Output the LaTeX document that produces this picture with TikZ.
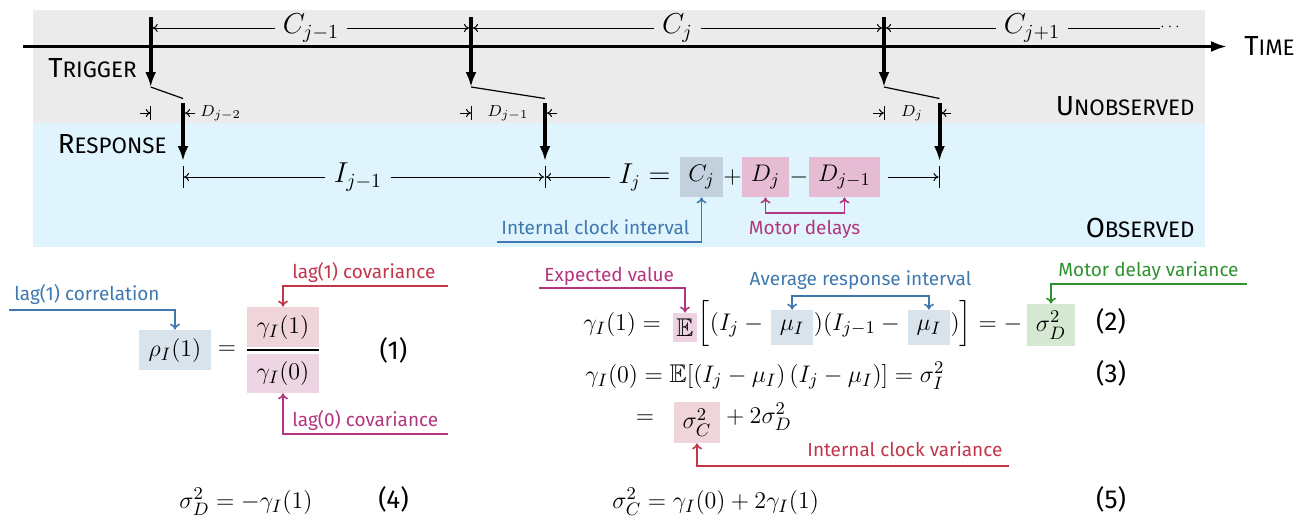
\documentclass[tikz,border=0pt]{standalone}
\usepackage{amssymb}
\usepackage{fontspec}
\newfontfamily\fira{Fira Sans}
\usetikzlibrary{arrows.meta}
\definecolor{bggray}{HTML}{EBEBEB}
\definecolor{bgblue}{HTML}{DFF4FC}
\definecolor{boxC}{HTML}{C3D1DE}
\definecolor{boxD}{HTML}{E5BCD3}
\definecolor{boxmu}{HTML}{D9E3EC}
\definecolor{boxE}{HTML}{EDD3E2}
\definecolor{boxnum}{HTML}{EFD4D9}
\definecolor{boxden}{HTML}{EED5E3}
\definecolor{boxgreen}{HTML}{D4E8D2}
\definecolor{boxsc}{HTML}{EFD4DA}
\definecolor{cblue}{HTML}{3E78AE}
\definecolor{cred}{HTML}{C2364B}
\definecolor{cmag}{HTML}{B4357F}
\definecolor{cgreen}{HTML}{2F912F}
\newcommand\fakesc[2]{{\fira\fontsize{13.8}{16}\selectfont #1}{\fira\fontsize{11.2}{13}\selectfont #2}}
\begin{document}
\begin{tikzpicture}[x=0.5pt,y=-0.5pt,
  big/.style={line width=2pt,-{Latex[length=7.5pt,width=5.5pt]}},
  dimline/.style={line width=0.5pt,-{To[length=2.5pt,width=4pt]}},
  barline/.style={line width=0.5pt},
  conn/.style={line width=0.8pt,-{To[length=3pt,width=5pt]}},
  conn2/.style={line width=0.8pt,{To[length=3pt,width=5pt]}-{To[length=3pt,width=5pt]}},
  lbl/.style={inner sep=0pt,font=\fira\fontsize{9.5}{11.5}\selectfont},
  mth/.style={inner sep=0pt,font=\fontsize{12.8}{15}\selectfont},
  sml/.style={inner sep=0pt,font=\fontsize{8.5}{10}\selectfont},
  hbox/.style={inner sep=0pt,font=\fontsize{12.8}{15}\selectfont},
  eqnum/.style={inner sep=0pt,font=\fira\fontsize{13}{15}\selectfont},
  sclab/.style={inner sep=0pt},
  dimlab/.style={font=\fontsize{14}{16}\selectfont,inner xsep=4pt,inner ysep=1pt}
]
\useasboundingbox (0,0) rectangle (1306,521);
% backgrounds
\fill[bggray] (33,10) rectangle (1205,123);
\fill[bgblue] (33,123) rectangle (1205,247);
% time axis
\coordinate (ax0) at (23,46.5);
\coordinate (ax1) at (1227,46.5);
\draw[line width=1.5pt,-{Latex[length=8pt,width=5.5pt]}] (ax0) -- (ax1);
\node[sclab,anchor=base west] (time) at (1244,55) {\fakesc{T}{IME}};
\node[sclab,anchor=base east] (trig) at (137,77) {\fakesc{T}{RIGGER}};
\node[sclab,anchor=base east] (resp) at (167,153) {\fakesc{R}{ESPONSE}};
\node[sclab,anchor=base east] (unobs) at (1195,115) {\fakesc{U}{NOBSERVED}};
\node[sclab,anchor=base east] (obs) at (1195,237) {\fakesc{O}{BSERVED}};
% triggers and responses
\coordinate (t1a) at (150.7,17); \coordinate (t1b) at (150.7,87);
\coordinate (t2a) at (471,17);   \coordinate (t2b) at (471,87);
\coordinate (t3a) at (884,17);   \coordinate (t3b) at (884,87);
\coordinate (s1) at (183,98.5); \coordinate (s2) at (545,98.5); \coordinate (s3) at (939.5,98.5);
\coordinate (r1a) at (183,103); \coordinate (r1b) at (183,161);
\coordinate (r2a) at (545,103); \coordinate (r2b) at (545,161);
\coordinate (r3a) at (939.5,103); \coordinate (r3b) at (939.5,161);
\draw[big] (t1a) -- (t1b); \draw[big] (t2a) -- (t2b); \draw[big] (t3a) -- (t3b);
\draw[line width=0.6pt] (t1b) -- (s1);
\draw[line width=0.6pt] (t2b) -- (s2);
\draw[line width=0.6pt] (t3b) -- (s3);
\draw[big] (r1a) -- (r1b); \draw[big] (r2a) -- (r2b); \draw[big] (r3a) -- (r3b);
% D markers
\coordinate (d1l) at (140,113); \coordinate (d1r) at (195,113);
\coordinate (d2l) at (460,113); \coordinate (d2r) at (557,113);
\coordinate (d3l) at (873,113); \coordinate (d3r) at (951,113);
\draw[dimline] (d1l) -- (t1b |- d1l);
\draw[dimline] (d2l) -- (t2b |- d2l);
\draw[dimline] (d3l) -- (t3b |- d3l);
\draw[dimline,shorten >=1pt] (d1r) -- (r1a |- d1r);
\draw[dimline,shorten >=1pt] (d2r) -- (r2a |- d2r);
\draw[dimline,shorten >=1pt] (d3r) -- (r3a |- d3r);
\coordinate (b1t) at (150.7,106); \coordinate (b1u) at (150.7,120);
\coordinate (b2t) at (471,106);   \coordinate (b2u) at (471,120);
\coordinate (b3t) at (884,106);   \coordinate (b3u) at (884,120);
\draw[barline] (b1t) -- (b1u); \draw[barline] (b2t) -- (b2u); \draw[barline] (b3t) -- (b3u);
\node[sml,anchor=west] (dl1) at (200,113) {$D_{j-2}$};
\node[sml] (dl2) at (508,113) {$D_{j-1}$};
\node[sml] (dl3) at (912,113) {$D_{j}$};
% C row
\node[dimlab,fill=bggray] (c1) at (311,28) {$C_{j-1}$};
\node[dimlab,fill=bggray] (c2) at (677.5,28) {$C_{j}$};
\node[dimlab,fill=bggray] (c3) at (1032,28) {$C_{j+1}$};
\node[inner sep=0pt,font=\fontsize{7}{8}\selectfont] (dots) at (1170,27) {$\cdots$};
\draw[dimline,shorten >=1pt] (c1) -- (t1a |- c1);
\draw[dimline,shorten >=1pt] (c1) -- (t2a |- c1);
\draw[dimline,shorten >=1pt] (c2) -- (t2a |- c2);
\draw[dimline,shorten >=1pt] (c2) -- (t3a |- c2);
\draw[dimline,shorten >=1pt] (c3) -- (t3a |- c3);
\draw[line width=0.5pt] (c3) -- (dots.west |- c3);
% I row
\coordinate (i1t) at (183,166); \coordinate (i1u) at (183,188);
\coordinate (i2t) at (545,166); \coordinate (i2u) at (545,188);
\coordinate (i3t) at (939.5,166); \coordinate (i3u) at (939.5,188);
\draw[barline] (i1t) -- (i1u); \draw[barline] (i2t) -- (i2u); \draw[barline] (i3t) -- (i3u);
\node[dimlab,fill=bgblue] (il1) at (358,177) {$I_{j-1}$};
\draw[dimline,shorten >=0.5pt] (il1) -- (i1t |- il1);
\draw[dimline,shorten >=0.5pt] (il1) -- (i2t |- il1);
\node[hbox,fill=boxC,minimum width=21.5pt,minimum height=20pt] (Cj) at (701.5,177) {$C_j$};
\node[mth,anchor=base east,font=\fontsize{13.5}{16}\selectfont] (ij) at (671,183) {$I_j =$};
\node[mth,anchor=base] (plus) at (732.5,183) {$+$};
\node[hbox,fill=boxD,minimum width=23.5pt,minimum height=20pt] (Dj) at (765.5,177) {$D_j$};
\node[mth,anchor=base] (minus) at (799,183) {$-$};
\node[hbox,fill=boxD,minimum width=35.5pt,minimum height=20pt] (Djm) at (844.5,177) {$D_{j-1}$};
\draw[dimline,shorten <=4pt,shorten >=0.5pt] (ij.west |- Cj.center) -- (i2t |- Cj.center);
\draw[dimline,shorten <=4pt,shorten >=0.5pt] (Djm.east) -- (i3t |- Djm.east);
% labels in the observed band
\node[lbl,text=cblue,anchor=base west] (icl) at (501,234) {Internal clock interval};
\coordinate (iclf) at (497,242);
\draw[conn,cblue] (iclf) -- (iclf -| Cj.south) -- (Cj.south);
\node[lbl,text=cmag,anchor=base] (md) at (804.5,234) {Motor delays};
\coordinate (mdb) at (804.5,213);
\draw[conn2,cmag] (Dj.south) -- (Dj.south |- mdb) -- (Djm.south |- mdb) -- (Djm.south);
% equation 1
\node[hbox,fill=boxmu,minimum width=36pt,minimum height=20pt] (rho) at (175,350) {$\rho_I(1)$};
\node[mth] (eqa) at (227,350) {$=$};
\node[hbox,fill=boxnum,minimum width=36pt,minimum height=20pt] (num) at (283,327) {$\gamma_I(1)$};
\node[hbox,fill=boxden,minimum width=36pt,minimum height=19.5pt] (den) at (283,373.5) {$\gamma_I(0)$};
\draw[line width=1pt] (num.south west |- eqa) -- (num.south east |- eqa);
\node[eqnum] (n1) at (393.5,350) {(1)};
\node[lbl,text=cblue,anchor=base west] (l1c) at (14,300) {lag(1) correlation};
\coordinate (l1cf) at (9,310);
\draw[conn,cblue] (l1cf) -- (l1cf -| rho.north) -- (rho.north);
\node[lbl,text=cred,anchor=base west] (l1v) at (292,278) {lag(1) covariance};
\coordinate (l1vf) at (448,286);
\draw[conn,cred] (l1vf) -- (l1vf -| num.north) -- (num.north);
\node[lbl,text=cmag,anchor=base west] (l0v) at (292,426) {lag(0) covariance};
\coordinate (l0vf) at (448,434);
\draw[conn,cmag] (l0vf) -- (l0vf -| den.south) -- (den.south);
% equation 4
\node[mth,anchor=base west] (e4) at (179,508) {$\sigma_D^2 = -\gamma_I(1)$};
\node[eqnum,anchor=base] (n4) at (393.5,508) {(4)};
% equation 2
\node[mth,anchor=base west] (g1) at (583,330) {$\gamma_I(1) =$};
\node[hbox,fill=boxE,minimum width=12pt,minimum height=14.5pt] (E) at (685,327.5) {$\mathbb{E}$};
\node[mth,anchor=base west] (b1) at (E.east |- g1.base) {$\biggl[(I_j - {}$};
\node[hbox,fill=boxmu,minimum width=21pt,minimum height=17.5pt,anchor=west] (mu1) at ([xshift=1pt]b1.east |- 0,327.5) {$\mu_I$};
\node[mth,anchor=base west] (b2) at (mu1.east |- g1.base) {$)(I_{j-1} - {}$};
\node[hbox,fill=boxmu,minimum width=21pt,minimum height=17.5pt,anchor=west] (mu2) at ([xshift=1pt]b2.east |- 0,327.5) {$\mu_I$};
\node[mth,anchor=base west] (b3) at (mu2.east |- g1.base) {$)\biggr] = -$};
\node[hbox,fill=boxgreen,minimum width=24pt,minimum height=21pt,anchor=west] (sD) at ([xshift=2pt]b3.east |- 0,325) {$\sigma_D^2$};
\node[eqnum,anchor=base] (n2) at (1111,330) {(2)};
\node[lbl,text=cmag,anchor=base west] (ev) at (544,281) {Expected value};
\coordinate (evf) at (539,288);
\draw[conn,cmag] (evf) -- (evf -| E.north) -- (E.north);
\node[lbl,text=cblue,anchor=base] (ari) at (860.5,285) {Average response interval};
\coordinate (arib) at (860,296);
\draw[conn2,cblue] (mu1.north) -- (mu1.north |- arib) -- (mu2.north |- arib) -- (mu2.north);
\node[lbl,text=cgreen,anchor=base west] (mdv) at (1058,276) {Motor delay variance};
\coordinate (mdvf) at (1246.5,284);
\draw[conn,cgreen] (mdvf) -- (mdvf -| sD.north) -- (sD.north);
% equation 3
\node[mth,anchor=base west] (g0) at (585,382) {$\gamma_I(0) = \mathbb{E}[(I_j - \mu_I)\,(I_j - \mu_I)] = \sigma_I^2$};
\node[eqnum,anchor=base] (n3) at (1111,382) {(3)};
\node[mth,anchor=base] (eqb) at (645,423) {$=$};
\node[hbox,fill=boxsc,minimum width=23pt,minimum height=20.5pt] (sC) at (697,422.5) {$\sigma_C^2$};
\node[mth,anchor=base west] (p2) at (sC.east |- eqb.base) {${}+2\sigma_D^2$};
\node[lbl,text=cred,anchor=base west] (icv) at (807,456) {Internal clock variance};
\coordinate (icvf) at (1009,466);
\draw[conn,cred] (icvf) -- (icvf -| sC.south) -- (sC.south);
% equation 5
\node[mth,anchor=base west] (e5) at (612,508) {$\sigma_C^2 = \gamma_I(0) + 2\gamma_I(1)$};
\node[eqnum,anchor=base] (n5) at (1111,508) {(5)};
\end{tikzpicture}
\end{document}
